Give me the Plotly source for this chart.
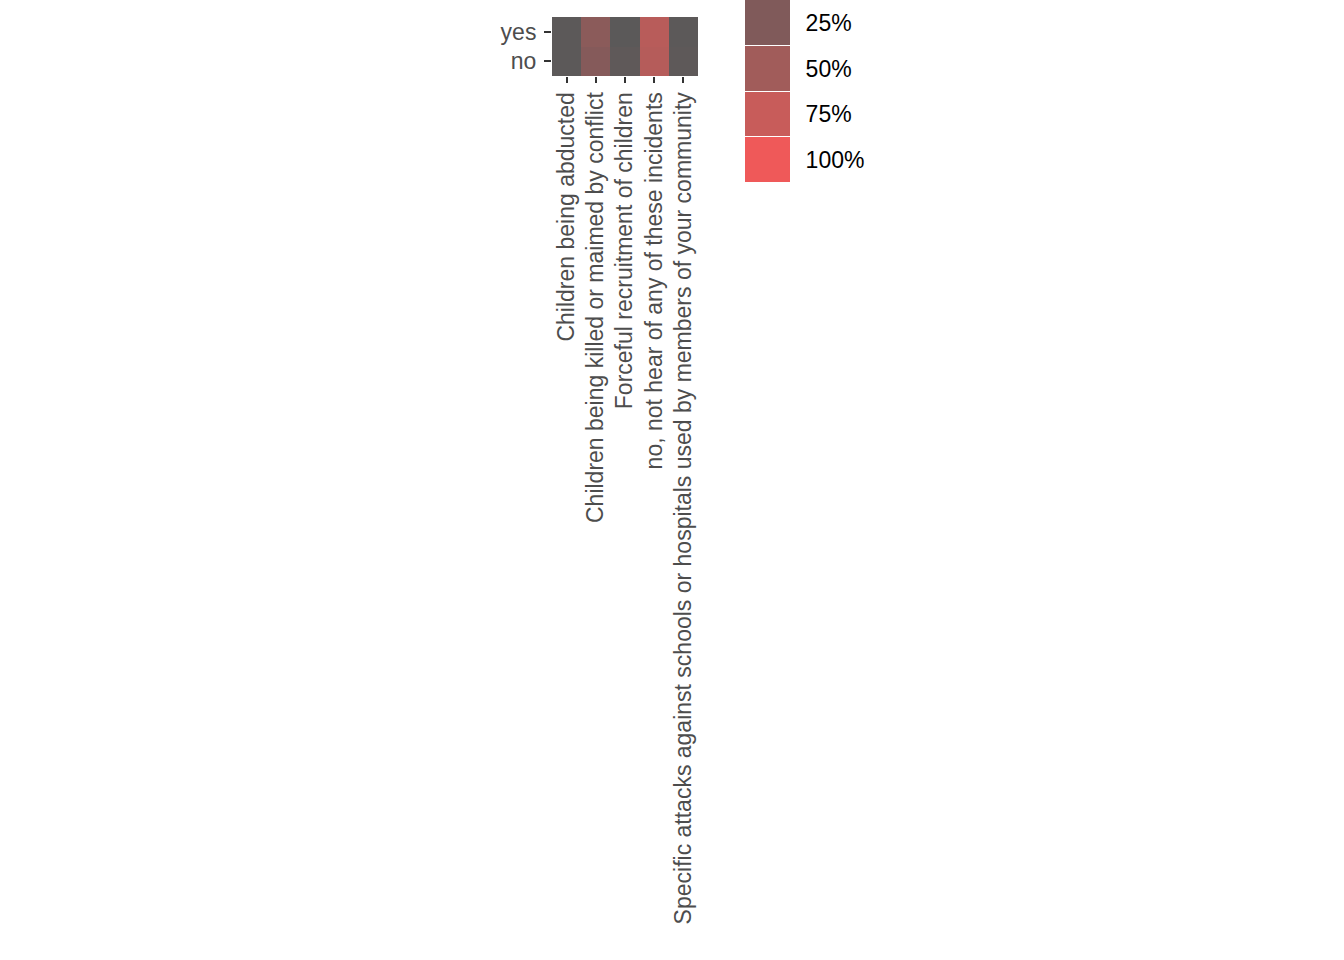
import plotly.graph_objects as go

W, H = 1344, 960

categories = [
    "Children being abducted",
    "Children being killed or maimed by conflict",
    "Forceful recruitment of children",
    "no, not hear of any of these incidents",
    "Specific attacks against schools or hospitals used by members of your community",
]
rows = ["no", "yes"]
yes_pct = [2, 33, 1, 65, 2]
no_pct = [2, 29, 4, 63, 3]

legend_breaks = [25, 50, 75, 100]
legend_labels = ["25%", "50%", "75%", "100%"]

colorscale = [
    [0.0, "#595959"],
    [0.25, "#805A5A"],
    [0.5, "#A15C5A"],
    [0.75, "#C85C5A"],
    [1.0, "#EF5959"],
]

fig = go.Figure()

fig.add_trace(go.Heatmap(
    x=categories,
    y=rows,
    z=[no_pct, yes_pct],
    colorscale=colorscale,
    zmin=0, zmax=100,
    showscale=False,
    xaxis="x", yaxis="y",
))

fig.add_trace(go.Heatmap(
    x=["legend"],
    y=legend_labels,
    z=[[v] for v in legend_breaks],
    colorscale=colorscale,
    zmin=0, zmax=100,
    showscale=False,
    ygap=1,
    xaxis="x2", yaxis="y2",
    hoverinfo="skip",
))

tick_font = dict(family="Liberation Sans, Arial, sans-serif", size=23, color="#4D4D4D")

fig.update_layout(
    width=W, height=H,
    margin=dict(l=0, r=0, t=0, b=0),
    paper_bgcolor="white",
    plot_bgcolor="white",
    showlegend=False,
    xaxis=dict(
        domain=[552 / W, 698 / W],
        anchor="y",
        tickangle=-90,
        tickfont=tick_font,
        ticks="outside", ticklen=6, tickwidth=1.5, tickcolor="#333333",
        showgrid=False, zeroline=False, showline=False,
        automargin=False,
    ),
    yaxis=dict(
        domain=[1 - 76 / H, 1 - 17 / H],
        anchor="x",
        categoryorder="array", categoryarray=rows,
        tickfont=tick_font,
        ticks="outside", ticklen=7, tickwidth=1.5, tickcolor="#333333",
        ticklabelstandoff=3,
        showgrid=False, zeroline=False, showline=False,
        automargin=False,
    ),
    xaxis2=dict(
        domain=[745 / W, 790 / W],
        anchor="y2",
        showticklabels=False, ticks="",
        showgrid=False, zeroline=False, showline=False,
    ),
    yaxis2=dict(
        domain=[1 - 183 / H, 1.0],
        anchor="x2",
        side="right",
        autorange="reversed",
        categoryorder="array", categoryarray=legend_labels,
        tickfont=dict(family="Liberation Sans, Arial, sans-serif", size=23, color="black"),
        ticks="outside", ticklen=10, tickcolor="rgba(0,0,0,0)",
        showgrid=False, zeroline=False, showline=False,
        automargin=False,
    ),
)

fig.write_html("out.html")
